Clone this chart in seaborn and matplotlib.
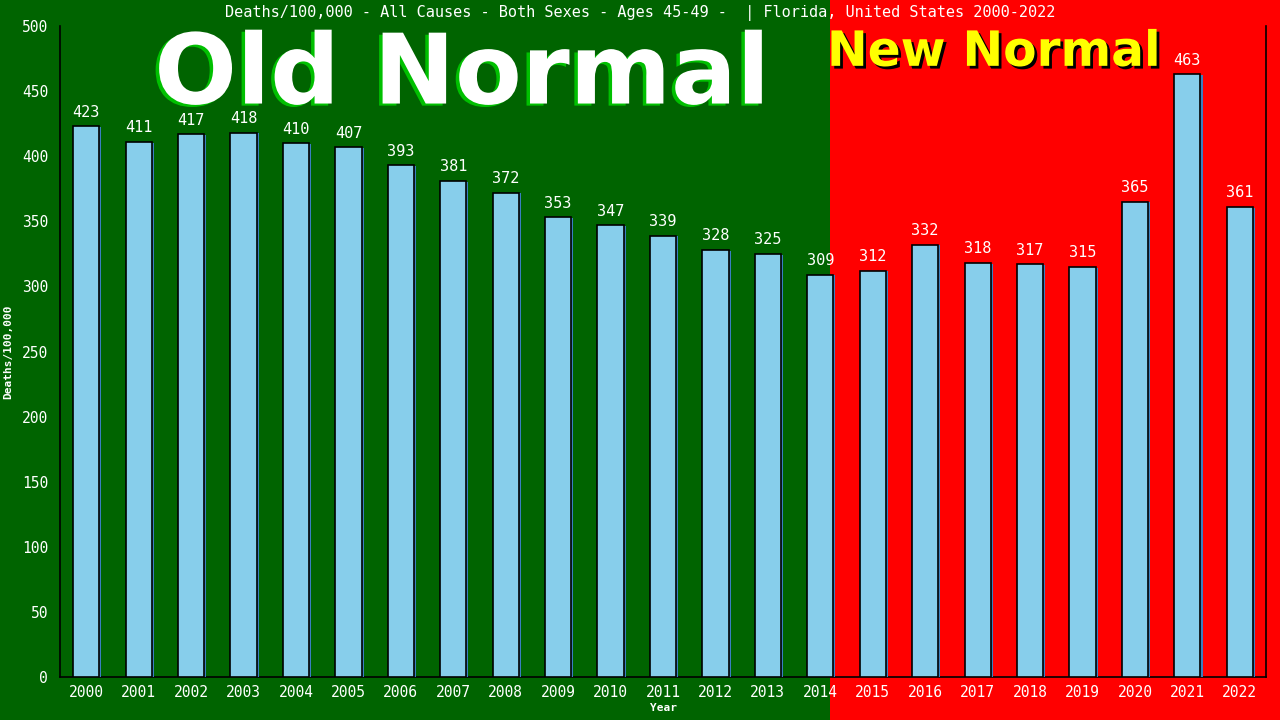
import matplotlib
matplotlib.use("Agg")
import matplotlib.pyplot as plt
import matplotlib.patheffects as pe
from matplotlib.patches import Rectangle
import seaborn as sns

# データ
years = [str(y) for y in range(2000, 2023)]
deaths = [423, 411, 417, 418, 410, 407, 393, 381, 372, 353, 347, 339,
          328, 325, 309, 312, 332, 318, 317, 315, 365, 463, 361]

sns.set_style("white")
plt.rcParams['font.family'] = ['DejaVu Sans Mono', 'DejaVu Sans']

fig = plt.figure(figsize=(12.8, 7.2), dpi=100)
fig.patch.set_facecolor("#006400")
# 右側の赤い背景
fig.patches.append(Rectangle((830 / 1280, 0), 1 - 830 / 1280, 1,
                             transform=fig.transFigure, facecolor="#ff0000",
                             edgecolor="none", zorder=-1))

ax = fig.add_axes([60 / 1280, 43 / 720, 1206 / 1280, 651 / 720])
ax.patch.set_alpha(0)
ax.set_zorder(1)

# 大きな文字（棒の後ろ）
fig.text(462 / 1280, 0.893, "Old Normal", ha="center", va="center",
         color="white", fontsize=70, fontweight="bold", family="DejaVu Sans",
         zorder=0,
         path_effects=[pe.withSimplePatchShadow(offset=(-2.5, -1.5),
                                                shadow_rgbFace="#00c000", alpha=1)])
fig.text(994 / 1280, 0.928, "New Normal", ha="center", va="center",
         color="#ffff00", fontsize=35, fontweight="bold", family="DejaVu Sans",
         zorder=0,
         path_effects=[pe.withSimplePatchShadow(offset=(2, -2),
                                                shadow_rgbFace="black", alpha=1)])

sns.barplot(x=years, y=deaths, color="#87ceeb", edgecolor="black",
            linewidth=1.2, width=0.5, saturation=1, ax=ax, zorder=3)
for bar in ax.patches:
    bar.set_path_effects([pe.SimplePatchShadow(offset=(1.5, -0.5),
                                               shadow_rgbFace="#3a7fc0", alpha=1),
                          pe.Normal()])

# 値ラベル
for i, v in enumerate(deaths):
    ax.text(i, v + 5, str(v), ha="center", va="bottom", color="white",
            fontsize=11, zorder=4)

ax.set_xlim(-0.5, 22.5)
ax.set_ylim(0, 500)
ax.set_yticks(range(0, 501, 50))
ax.tick_params(axis="both", colors="black", labelcolor="white", labelsize=10.5,
               direction="out", length=5, width=1)
ax.tick_params(axis="x", length=0, pad=6)
for s in ["left", "bottom", "right"]:
    ax.spines[s].set_color("black")
    ax.spines[s].set_linewidth(1.2)
ax.spines["top"].set_visible(False)

ax.set_xlabel("Year", color="white", fontsize=8, fontweight="bold", labelpad=2)
ax.set_ylabel("Deaths/100,000", color="white", fontsize=8, fontweight="bold",
              labelpad=6)

fig.text(0.5, 0.982, "Deaths/100,000 - All Causes - Both Sexes - Ages 45-49 -  | Florida, United States 2000-2022",
         ha="center", va="center", color="white", fontsize=11)

fig.savefig("out.png", dpi=100, facecolor=fig.get_facecolor())
